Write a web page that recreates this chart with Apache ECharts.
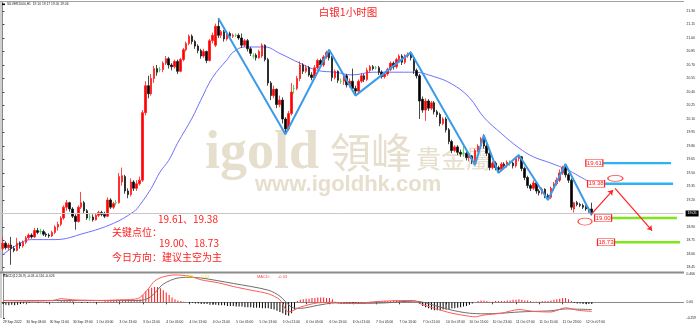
<!DOCTYPE html>
<html><head><meta charset="utf-8">
<script src="https://cdn.jsdelivr.net/npm/echarts@6/dist/echarts.min.js"></script>
<style>html,body{margin:0;padding:0;background:#fff}#c{width:700px;height:328px}</style>
</head><body><div id="c"></div>
<script>
// ---------------- data ----------------
const tickLabels = ['29 Sep 2022','30 Sep 03:00','30 Sep 11:00','30 Sep 19:00','1 Oct 03:00','3 Oct 13:00','3 Oct 21:00','4 Oct 05:00','4 Oct 13:00','4 Oct 21:00','5 Oct 05:00','5 Oct 13:00','5 Oct 21:00','6 Oct 05:00','6 Oct 13:00','6 Oct 21:00','7 Oct 05:00','7 Oct 13:00','7 Oct 21:00','10 Oct 07:00','10 Oct 15:00','10 Oct 23:00','11 Oct 07:00','11 Oct 15:00','11 Oct 23:00','12 Oct 07:00'];
const priceTicks = [21.30,21.15,21.00,20.85,20.70,20.55,20.40,20.25,20.10,19.95,19.80,19.65,19.50,19.35,19.20,18.90,18.75,18.60,18.45];
const macdTicks = [0.466,0,-0.259];
// [open, close, low, high]
const candles = [
[18.66,18.72,18.64,18.79],[18.72,18.67,18.65,18.74],[18.67,18.70,18.64,18.72],[18.70,18.66,18.48,18.79],[18.66,18.64,18.62,18.69],
[18.64,18.72,18.63,18.78],[18.72,18.69,18.66,18.74],[18.69,18.73,18.67,18.75],[18.73,18.78,18.71,18.80],[18.78,18.81,18.76,18.83],
[18.81,18.79,18.77,18.83],[18.79,18.86,18.78,18.89],[18.86,18.84,18.82,18.89],[18.85,18.85,18.82,18.88],[18.85,18.82,18.80,18.87],
[18.82,18.81,18.79,18.84],[18.81,18.80,18.78,18.83],[18.80,18.84,18.79,18.86],[18.84,18.90,18.82,18.92],[18.90,18.93,18.86,18.96],
[18.93,19.00,18.91,19.02],[19.00,19.12,18.98,19.14],[19.12,19.17,19.08,19.20],[19.17,19.10,19.07,19.18],[19.10,19.02,19.00,19.12],
[19.02,18.96,18.87,19.04],[18.96,19.12,18.95,19.14],[19.12,19.17,19.10,19.29],[19.17,19.08,19.05,19.19],[19.08,19.00,18.98,19.10],
[19.01,19.01,18.97,19.05],[19.01,18.98,18.96,19.04],[18.98,19.03,18.97,19.05],[19.03,19.06,19.01,19.08],[19.06,19.04,19.02,19.08],
[19.04,19.02,19.00,19.07],[19.02,19.20,19.01,19.23],[19.20,19.12,19.10,19.22],[19.12,19.16,19.10,19.18],[19.17,19.17,19.14,19.20],
[19.17,19.46,19.16,19.50],[19.40,19.47,19.36,19.56],[19.46,19.30,19.27,19.48],[19.30,19.26,19.22,19.33],[19.26,19.40,19.24,19.44],
[19.40,19.33,19.30,19.42],[19.33,19.38,19.30,19.42],[19.38,19.42,19.36,19.46],[19.42,20.17,19.40,20.20],[20.17,20.47,20.14,20.52],
[20.47,20.38,20.33,20.58],[20.38,20.55,20.36,20.60],[20.55,20.66,20.50,20.69],[20.66,20.62,20.58,20.70],[20.65,20.65,20.62,20.68],
[20.65,20.72,20.62,20.74],[20.72,20.77,20.70,20.80],[20.77,20.70,20.66,20.79],[20.70,20.68,20.64,20.72],[20.68,20.74,20.66,20.76],
[20.74,20.63,20.60,20.76],[20.63,20.76,20.62,20.78],[20.76,20.87,20.74,20.89],[20.87,20.94,20.85,20.96],[20.94,21.02,20.92,21.04],
[21.02,20.96,20.93,21.04],[20.96,20.91,20.88,20.98],[20.91,20.86,20.83,20.93],[20.86,20.80,20.77,20.88],[20.80,20.85,20.78,20.88],
[20.85,20.75,20.72,20.86],[20.75,20.97,20.74,20.99],[20.97,21.03,20.94,21.06],[20.92,21.13,20.90,21.16],[21.13,21.03,21.00,21.22],
[21.03,21.07,21.00,21.09],[21.07,20.99,20.96,21.09],[20.99,21.05,20.97,21.07],[21.05,21.02,21.00,21.07],[21.02,21.03,21.00,21.05],
[21.03,21.03,21.01,21.05],[21.03,21.00,20.98,21.05],[21.00,20.92,20.89,21.05],[20.92,20.97,20.90,20.99],[20.97,20.88,20.85,20.99],
[20.88,20.83,20.80,20.90],[20.80,20.80,20.77,20.83],[20.81,20.78,20.75,20.83],[20.78,20.85,20.77,20.87],[20.80,20.92,20.78,20.94],
[20.92,20.76,20.74,20.93],[20.76,20.50,20.47,20.78],[20.50,20.36,20.31,20.52],[20.36,20.43,20.33,20.47],[20.43,20.26,20.22,20.44],
[20.26,20.31,20.23,20.36],[20.31,20.10,20.05,20.34],[20.10,19.99,19.93,20.12],[19.99,20.16,19.97,20.19],[20.16,20.40,20.14,20.50],
[20.44,20.44,20.38,20.48],[20.44,20.55,20.42,20.58],[20.55,20.70,20.52,20.74],[20.70,20.63,20.60,20.72],[20.63,20.67,20.61,20.70],
[20.67,20.59,20.57,20.69],[20.59,20.56,20.53,20.62],[20.56,20.67,20.55,20.70],[20.67,20.75,20.65,20.77],[20.75,20.70,20.68,20.77],
[20.70,20.79,20.68,20.81],[20.79,20.84,20.77,20.86],[20.84,20.78,20.75,20.87],[20.78,20.56,20.52,20.80],[20.56,20.63,20.54,20.65],
[20.63,20.53,20.50,20.64],[20.52,20.52,20.49,20.55],[20.52,20.58,20.48,20.60],[20.58,20.48,20.45,20.60],[20.48,20.52,20.45,20.55],
[20.52,20.44,20.40,20.66],[20.44,20.41,20.36,20.47],[20.41,20.52,20.39,20.54],[20.52,20.58,20.50,20.61],[20.58,20.54,20.51,20.60],
[20.54,20.64,20.52,20.67],[20.64,20.68,20.62,20.70],[20.68,20.66,20.64,20.70],[20.67,20.67,20.65,20.69],[20.67,20.62,20.59,20.69],
[20.62,20.57,20.55,20.64],[20.57,20.60,20.55,20.62],[20.60,20.65,20.58,20.67],[20.65,20.72,20.63,20.74],[20.72,20.68,20.65,20.74],
[20.68,20.76,20.66,20.78],[20.76,20.80,20.74,20.82],[20.80,20.73,20.70,20.82],[20.73,20.80,20.71,20.82],[20.80,20.82,20.78,20.84],
[20.82,20.78,20.75,20.85],[20.78,20.64,20.60,20.80],[20.64,20.58,20.55,20.66],[20.58,20.30,20.10,20.60],[20.32,20.20,20.17,20.35],
[20.20,20.30,20.08,20.33],[20.30,20.22,20.19,20.32],[20.22,20.28,20.20,20.30],[20.28,20.18,20.15,20.30],[20.18,20.15,20.12,20.20],
[20.15,20.05,20.02,20.17],[20.05,20.10,20.03,20.12],[20.10,19.98,19.95,20.12],[19.98,19.85,19.82,20.00],[19.85,19.75,19.72,19.87],
[19.75,19.79,19.73,19.81],[19.79,19.73,19.70,19.81],[19.73,19.71,19.68,19.76],[19.72,19.72,19.68,19.82],[19.72,19.67,19.64,19.74],
[19.67,19.69,19.63,19.71],[19.69,19.63,19.60,19.70],[19.63,19.75,19.59,19.77],[19.75,19.80,19.73,19.82],[19.80,19.88,19.78,19.90],
[19.88,19.80,19.77,19.93],[19.80,19.72,19.69,19.82],[19.72,19.56,19.53,19.74],[19.56,19.61,19.54,19.63],[19.61,19.56,19.53,19.63],
[19.56,19.54,19.50,19.58],[19.54,19.60,19.52,19.62],[19.60,19.58,19.56,19.62],[19.58,19.62,19.56,19.64],[19.61,19.61,19.58,19.64],
[19.61,19.58,19.55,19.63],[19.58,19.66,19.56,19.68],[19.66,19.68,19.63,19.70],[19.68,19.55,19.52,19.69],[19.55,19.45,19.42,19.57],
[19.45,19.36,19.33,19.47],[19.36,19.33,19.30,19.38],[19.33,19.39,19.31,19.42],[19.39,19.30,19.27,19.40],[19.30,19.28,19.25,19.32],
[19.28,19.32,19.26,19.34],[19.32,19.25,19.22,19.33],[19.25,19.23,19.20,19.27],[19.23,19.33,19.21,19.35],[19.33,19.38,19.30,19.40],
[19.38,19.42,19.36,19.45],[19.42,19.50,19.40,19.54],[19.50,19.56,19.48,19.58],[19.56,19.48,19.45,19.60],[19.48,19.42,19.39,19.50],
[19.42,19.12,19.09,19.44],[19.10,19.17,19.06,19.18],[19.17,19.15,19.13,19.19],[19.15,19.14,19.12,19.17],[19.14,19.12,19.10,19.16],
[19.12,19.10,19.08,19.14],[19.10,19.08,19.06,19.12],[19.10,19.05,19.03,19.17]
];
const lastPrice = 19.05;
// moving average read at points [bar index, price]
const maPoints = [[0,18.59],[6,18.72],[10,18.76],[18,18.76],[28,18.83],[38,18.94],[45,19.07],[47,19.14],[51,19.33],[54,19.51],[57,19.64],[60,19.83],[65,20.11],[68,20.31],[72,20.56],[77,20.76],[79,20.84],[83,20.90],[90,20.90],[95,20.83],[102,20.72],[108,20.64],[114,20.62],[120,20.59],[127,20.62],[134,20.62],[141,20.62],[148,20.57],[154,20.49],[160,20.34],[165,20.12],[171,19.94],[177,19.78],[182,19.68],[188,19.61],[194,19.53],[199,19.44],[202,19.39]];
// blue zig-zag swing points [bar index, price]
const zigzag = [[74,21.22],[97,19.93],[112,20.87],[121,20.36],[140,20.84],[162,19.59],[165,19.92],[170,19.50],[177,19.70],[187,19.20],[193,19.60],[202,19.03]];
const resistLevels = [19.61,19.38];
const supportLevels = [19.00,18.73];
// projected red path [bar index, price]
const arrowPath = [[201.8,19.04],[209.3,19.31],[210,19.33],[222.7,18.86]];
const circleMarks = [[199.7,18.96],[210.1,19.44]];
// MACD
const macdHist = [
-0.03,-0.04,-0.05,-0.04,-0.05,-0.04,-0.03,-0.02,
0.01,-0.01,0.01,0.01,-0.01,0.01,0.01,-0.01,0.01,0.01,0.00,0.01,
0.03,0.03,0.03,0.02,0.02,0.01,
0.01,-0.01,0.01,-0.01,0.01,0.01,-0.01,0.01,0.01,
0.02,0.02,0.02,0.02,0.03,0.03,0.03,0.03,0.03,0.03,0.03,0.04,
0.05,0.12,0.18,0.22,0.24,0.25,0.25,0.23,0.20,0.16,0.12,0.08,0.05,
0.03,0.02,0.01,0.00,-0.01,
-0.01,-0.02,-0.02,-0.03,-0.03,-0.03,-0.04,-0.04,-0.04,-0.05,-0.05,-0.05,-0.06,-0.06,-0.06,-0.07,-0.07,-0.07,-0.08,-0.08,-0.08,-0.09,-0.09,-0.09,-0.10,-0.10,-0.10,-0.11,-0.12,-0.14,-0.16,-0.18,-0.21,-0.22,-0.18,-0.12,
0.02,0.04,0.05,0.06,0.06,0.07,0.07,0.08,0.08,0.08,0.07,0.07,0.05,
-0.01,-0.02,-0.03,-0.03,-0.02,-0.02,-0.02,-0.02,-0.02,-0.01,-0.01,-0.01,
0.01,0.01,0.02,0.01,0.01,0.02,0.02,0.02,0.03,0.03,0.03,0.03,0.03,0.02,0.02,0.01,0.00,
-0.03,-0.06,-0.08,-0.10,-0.12,-0.13,-0.13,-0.13,-0.12,-0.12,-0.11,-0.10,-0.10,-0.09,-0.08,-0.07,-0.06,-0.04,-0.02,
0.00,0.02,0.03,0.03,0.02,0.01,0.01,0.02,0.02,
0.02,0.02,0.03,0.03,0.04,0.04,0.05,0.04,0.03,0.03,0.02,
0.01,0.01,0.01,0.02,0.02,0.02,
0.03,0.04,0.05,0.06,0.07,0.07,0.05,0.02,
-0.01,-0.02,-0.02,-0.03,-0.03,-0.03,-0.03
];
const difPoints = [[0,0.03],[7,0.02],[17,0.03],[20,0.06],[24,0.04],[34,0.03],[40,0.04],[45,0.05],[47,0.08],[50,0.23],[52,0.35],[55,0.42],[59,0.45],[64,0.43],[68,0.37],[74,0.32],[79,0.26],[85,0.20],[91,0.14],[95,0.04],[98,-0.16],[102,-0.08],[108,-0.01],[114,0.00],[119,-0.02],[131,0.02],[141,0.03],[143,-0.02],[148,-0.10],[154,-0.18],[160,-0.23],[162,-0.24],[165,-0.21],[171,-0.18],[177,-0.12],[182,-0.15],[188,-0.16],[193,-0.09],[197,-0.13],[202,-0.15]];
const deaPoints = [[0,0.03],[47,0.03],[50,0.07],[52,0.15],[55,0.30],[60,0.40],[64,0.41],[68,0.40],[79,0.31],[91,0.20],[95,0.10],[99,-0.08],[102,-0.10],[108,-0.05],[114,-0.01],[119,-0.02],[131,-0.01],[141,0.02],[145,-0.01],[150,-0.08],[155,-0.14],[160,-0.18],[165,-0.19],[171,-0.18],[177,-0.16],[182,-0.15],[188,-0.14],[193,-0.11],[202,-0.12]];

// ---------------- chart ----------------
const N = 234; // bar slots across the chart width
const cats = Array.from({length: N}, (_, i) => String(i));
const RED = '#ff2020';
const CJK = '"Noto Sans CJK SC"';
const levelSpan = {19.61: [205.9, 229.2], 19.38: [206.6, 229.9], 19.00: [208.2, 231.2], 18.73: [208.9, 232.3]};
const boxAt = {19.61: 202.9, 19.38: 203.5, 19.00: 205.9, 18.73: 206.9};

const levelSeries = (lv, color) => ({
  type: 'line', xAxisIndex: 1, yAxisIndex: 0, showSymbol: false, silent: true, z: 5,
  data: [[levelSpan[lv][0], lv], [levelSpan[lv][1], lv]],
  lineStyle: {color, width: 2.4}
});

const chart = echarts.init(document.getElementById('c'), null, {renderer: 'canvas'});
const smallFont = {fontSize: 3.3, color: '#222', fontFamily: 'Liberation Sans'};

const option = {
  animation: false,
  backgroundColor: '#fff',
  grid: [
    {left: 1, top: 2, width: 682.6, height: 269},
    {left: 1, top: 274, width: 682.6, height: 44}
  ],
  xAxis: [
    {type: 'category', gridIndex: 0, data: cats, boundaryGap: true, axisLine: {show: false}, axisTick: {show: false}, axisLabel: {show: false}, splitLine: {show: false}},
    {type: 'value', gridIndex: 0, min: -0.5, max: N - 0.5, show: false},
    {type: 'category', gridIndex: 1, data: cats, boundaryGap: true,
      axisLine: {show: true, lineStyle: {color: '#8a8a8a', width: 1}},
      axisTick: {show: true, alignWithLabel: true, length: 2, interval: (i) => i % 8 === 0 && i <= 200, lineStyle: {color: '#444'}},
      axisLabel: Object.assign({interval: (i) => i % 8 === 0 && i <= 200, align: 'left', margin: 3,
        formatter: (v, i) => (i % 8 === 0 && tickLabels[i / 8]) ? tickLabels[i / 8] : ''}, smallFont),
      splitLine: {show: false}},
    {type: 'value', gridIndex: 1, min: -0.5, max: N - 0.5, show: false}
  ],
  yAxis: [
    {type: 'value', gridIndex: 0, position: 'right', min: 18.4111, max: 21.4, scale: true,
      axisLine: {show: true, lineStyle: {color: '#8a8a8a'}},
      axisTick: {show: true, length: 2, customValues: priceTicks, lineStyle: {color: '#444'}},
      axisLabel: Object.assign({customValues: priceTicks, margin: 3, formatter: v => v.toFixed(2)}, smallFont),
      splitLine: {show: false}},
    {type: 'value', gridIndex: 1, position: 'right', min: -0.259, max: 0.466,
      axisLine: {show: true, lineStyle: {color: '#8a8a8a'}},
      axisTick: {show: true, length: 2, customValues: macdTicks, lineStyle: {color: '#444'}},
      axisLabel: Object.assign({customValues: macdTicks, margin: 3, formatter: v => v === 0 ? '0.00' : String(v)}, smallFont),
      splitLine: {show: false}}
  ],
  series: [
    {type: 'candlestick', xAxisIndex: 0, yAxisIndex: 0, data: candles, barWidth: 2, z: 3,
      itemStyle: {color: '#ff0000', color0: '#000000', borderColor: '#ff1a1a', borderColor0: '#1a1a1a', borderColorDoji: '#33cc33', borderWidth: 0.8},
      markLine: {symbol: 'none', silent: true, data: [{yAxis: lastPrice}],
        lineStyle: {color: '#c8c8c8', type: 'solid', width: 1},
        label: {position: 'end', distance: 2, formatter: () => lastPrice.toFixed(2), backgroundColor: '#000', color: '#fff', fontSize: 3.6, fontFamily: 'Liberation Sans', padding: [1, 2]}}},
    {type: 'line', xAxisIndex: 1, yAxisIndex: 0, data: maPoints, showSymbol: false, smooth: 0.4, silent: true, z: 2,
      lineStyle: {color: '#7070ff', width: 1}},
    {type: 'line', xAxisIndex: 1, yAxisIndex: 0, data: zigzag, showSymbol: false, silent: true, z: 6,
      lineStyle: {color: '#3a9be8', width: 2}},
    levelSeries(resistLevels[0], '#2ab4f0'),
    levelSeries(resistLevels[1], '#2ab4f0'),
    levelSeries(supportLevels[0], '#7ee61a'),
    levelSeries(supportLevels[1], '#7ee61a'),
    {type: 'scatter', xAxisIndex: 1, yAxisIndex: 0, silent: true, z: 8, symbol: 'rect', symbolSize: [17, 7],
      data: resistLevels.concat(supportLevels).map(lv => [boxAt[lv], lv]),
      itemStyle: {color: '#fff', borderColor: RED, borderWidth: 0.8, opacity: 1},
      label: {show: true, position: 'inside', formatter: p => p.value[1].toFixed(2), color: RED, fontSize: 6, fontFamily: 'Liberation Sans'}},
    {type: 'lines', coordinateSystem: 'cartesian2d', xAxisIndex: 1, yAxisIndex: 0, silent: true, z: 7,
      symbol: ['none', 'arrow'], symbolSize: 5,
      data: [{coords: [arrowPath[0], arrowPath[1]]}, {coords: [arrowPath[2], arrowPath[3]]}],
      lineStyle: {color: RED, width: 1.2, opacity: 1}},
    {type: 'scatter', xAxisIndex: 1, yAxisIndex: 0, silent: true, z: 7, symbol: 'circle',
      data: circleMarks, symbolSize: (v, p) => p.dataIndex === 0 ? [14, 7] : [15, 6],
      itemStyle: {color: 'rgba(255,255,255,0)', borderColor: RED, borderWidth: 1}},
    {type: 'bar', xAxisIndex: 2, yAxisIndex: 1, barWidth: 1, silent: true,
      data: macdHist.map(v => ({value: v, itemStyle: {color: v >= 0 ? '#ff1a1a' : '#000'}}))},
    {type: 'line', xAxisIndex: 3, yAxisIndex: 1, data: deaPoints, showSymbol: false, smooth: 0.3, silent: true,
      lineStyle: {color: '#6e6e6e', width: 1}},
    {type: 'line', xAxisIndex: 3, yAxisIndex: 1, data: difPoints, showSymbol: false, smooth: 0.3, silent: true,
      lineStyle: {color: '#ff5a5a', width: 1}}
  ],
  graphic: [
    // watermark
    {type: 'text', z: -10, silent: true, style: {text: 'igold', x: 205, y: 154, textVerticalAlign: 'middle', fill: '#e7dfcd', font: 'bold 54px "Liberation Serif"'}},
    {type: 'text', z: -10, silent: true, style: {text: '領峰', x: 330, y: 152.5, textVerticalAlign: 'middle', fill: '#e7dfcd', font: '41px "Noto Sans CJK TC"'}},
    {type: 'text', z: -10, silent: true, style: {text: '貴金屬', x: 416, y: 158, textVerticalAlign: 'middle', fill: '#e7dfcd', font: '25px "Noto Sans CJK TC"'}},
    {type: 'text', z: -10, silent: true, style: {text: 'www.igoldhk.com', x: 255, y: 185, textVerticalAlign: 'middle', fill: '#e7dfcd', font: 'bold 22px "Liberation Sans"'}},
    // frame
    {type: 'line', z: 50, silent: true, shape: {x1: 0, y1: 1.5, x2: 684, y2: 1.5}, style: {stroke: '#a0a0a0', lineWidth: 1}},
    {type: 'line', z: 50, silent: true, shape: {x1: 1, y1: 1, x2: 1, y2: 318}, style: {stroke: '#a0a0a0', lineWidth: 1}},
    {type: 'line', z: 50, silent: true, shape: {x1: 0, y1: 272.5, x2: 684, y2: 272.5}, style: {stroke: '#8c8c8c', lineWidth: 2}},
    // header text
    {type: 'rect', z: 50, silent: true, shape: {x: 2, y: 3.5, width: 3, height: 1.6}, style: {fill: '#000'}},
    {type: 'text', z: 50, silent: true, style: {text: 'SILVER2000,H1  19.10 19.17 19.05 19.06', x: 7, y: 4.5, textVerticalAlign: 'middle', fill: '#222', font: '3.3px "Liberation Sans"'}},
    {type: 'text', z: 50, silent: true, style: {text: '白银1小时图', x: 348, y: 12.5, textAlign: 'center', textVerticalAlign: 'middle', fill: RED, font: '10.5px ' + CJK}},
    // key levels notes
    {type: 'text', z: 50, silent: true, style: {text: '19.61、19.38', x: 158, y: 219, textVerticalAlign: 'middle', fill: RED, font: '10px ' + CJK}},
    {type: 'text', z: 50, silent: true, style: {text: '关键点位：', x: 112, y: 232, textVerticalAlign: 'middle', fill: RED, font: '10px ' + CJK}},
    {type: 'text', z: 50, silent: true, style: {text: '19.00、18.73', x: 159, y: 243, textVerticalAlign: 'middle', fill: RED, font: '10px ' + CJK}},
    {type: 'text', z: 50, silent: true, style: {text: '今日方向：建议主空为主', x: 112, y: 257, textVerticalAlign: 'middle', fill: RED, font: '10px ' + CJK}},
    // MACD header
    {type: 'text', z: 50, silent: true, style: {text: 'MACD(12,26,9) -0.03 -0.116 -0.026', x: 3, y: 276.5, textVerticalAlign: 'middle', fill: '#222', font: '3.3px "Liberation Sans"'}},
    {type: 'text', z: 50, silent: true, style: {text: 'DEA:', x: 185, y: 276.5, textVerticalAlign: 'middle', fill: '#e6d400', font: '4px "Liberation Sans"'}},
    {type: 'text', z: 50, silent: true, style: {text: '-0.12', x: 200, y: 276.5, textVerticalAlign: 'middle', fill: '#e6d400', font: '4px "Liberation Sans"'}},
    {type: 'text', z: 50, silent: true, style: {text: 'MACD:', x: 257, y: 276.5, textVerticalAlign: 'middle', fill: '#ff4a4a', font: '4px "Liberation Sans"'}},
    {type: 'text', z: 50, silent: true, style: {text: '-0.03', x: 278, y: 276.5, textVerticalAlign: 'middle', fill: '#ff4a4a', font: '4px "Liberation Sans"'}}
  ]
};
chart.setOption(option);
</script>
</body></html>
